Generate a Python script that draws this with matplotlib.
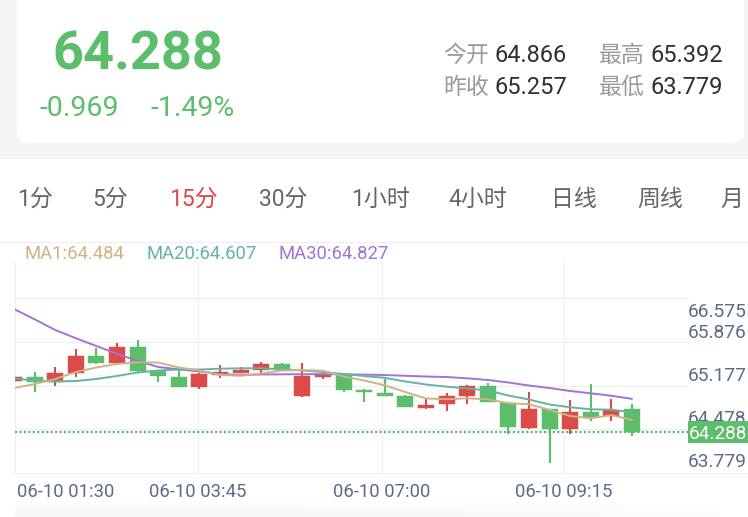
import matplotlib
matplotlib.use("Agg")
import numpy as np
import matplotlib.pyplot as plt
import matplotlib.transforms as mtransforms
from matplotlib.patches import FancyBboxPatch, Rectangle

# ---------------- data ----------------
last_price = 64.288
change_abs = "-0.969"
change_pct = "-1.49%"
stats_labels = ["今开", "最高", "昨收", "最低"]
stats_values = ["64.866", "65.392", "65.257", "63.779"]

periods = ["1分", "5分", "15分", "30分", "1小时", "4小时", "日线", "周线", "月"]
active_period = "15分"

opens = [65.122, 65.187, 65.106, 65.252, 65.529, 65.415, 65.670, 65.280, 65.187, 65.025,
         65.215, 65.252, 65.296, 65.389, 64.878, 65.187, 65.215, 64.971, 64.917, 64.873,
         64.683, 64.738, 64.881, 65.036, 64.755, 64.358, 64.657, 64.332, 64.618, 64.548, 64.657]
closes = [65.187, 65.106, 65.252, 65.529, 65.405, 65.670, 65.280, 65.199, 65.025, 65.226,
          65.259, 65.296, 65.389, 65.296, 65.199, 65.231, 64.971, 64.934, 64.878, 64.690,
          64.722, 64.873, 65.031, 64.771, 64.364, 64.657, 64.337, 64.618, 64.537, 64.646, 64.288]
highs = [65.215, 65.268, 65.350, 65.638, 65.659, 65.740, 65.784, 65.280, 65.307, 65.252,
         65.377, 65.350, 65.426, 65.410, 65.415, 65.268, 65.215, 64.982, 65.145, 64.890,
         64.825, 64.917, 65.060, 65.080, 64.781, 64.934, 64.657, 64.808, 65.064, 64.820, 64.743]
lows = [65.101, 64.943, 65.036, 65.182, 65.394, 65.415, 65.268, 65.106, 65.015, 64.982,
        65.161, 65.252, 65.252, 65.296, 64.862, 65.155, 64.943, 64.781, 64.878, 64.690,
        64.667, 64.634, 64.743, 64.771, 64.251, 64.337, 63.779, 64.251, 64.472, 64.472, 64.228]

ma1 = [65.003, 65.068, 65.150, 65.264, 65.337, 65.394, 65.421, 65.418, 65.337, 65.288,
       65.215, 65.203, 65.239, 65.288, 65.296, 65.285, 65.190, 65.125, 65.047, 64.938,
       64.833, 64.821, 64.836, 64.820, 64.755, 64.740, 64.646, 64.548, 64.511, 64.564, 64.484]
ma20 = [65.158, 65.125, 65.109, 65.117, 65.150, 65.199, 65.255, 65.288, 65.304, 65.304,
        65.317, 65.324, 65.324, 65.307, 65.288, 65.264, 65.231, 65.199, 65.169, 65.109,
        65.060, 65.025, 64.995, 64.963, 64.881, 64.816, 64.735, 64.690, 64.657, 64.651, 64.607]
ma30 = [66.288, 66.121, 65.947, 65.813, 65.686, 65.558, 65.444, 65.345, 65.307, 65.272,
        65.231, 65.215, 65.223, 65.226, 65.228, 65.228, 65.226, 65.221, 65.215, 65.202,
        65.190, 65.182, 65.161, 65.134, 65.093, 65.044, 65.003, 64.955, 64.917, 64.877, 64.827]
ma_names = ["MA1", "MA20", "MA30"]
ma_last = ["64.484", "64.607", "64.827"]

y_tick_labels = ["66.575", "65.876", "65.177", "64.478", "63.779"]
x_tick_labels = ["06-10 01:30", "06-10 03:45", "06-10 07:00", "06-10 09:15"]

# ---------------- style ----------------
W, H = 748, 517
FONT = ['Roboto', 'Noto Sans CJK SC', 'DejaVu Sans']
plt.rcParams['font.family'] = FONT
GREEN = "#5cbd6a"
RED = "#dc4a4a"
MA_COLORS = ["#cdb487", "#66b3a4", "#a274d2"]
AXIS_TXT = "#5c6c86"
GRID = "#efefef"

fig = plt.figure(figsize=(W / 100, H / 100), dpi=100)
fig.patch.set_facecolor("white")

# background / layout axes in pixel units
bg = fig.add_axes([0, 0, 1, 1], zorder=0)
bg.set_xlim(0, W)
bg.set_ylim(H, 0)
bg.axis("off")

bg.add_patch(Rectangle((0, 0), W, 159, color="#f5f5f5", lw=0))
bg.add_patch(FancyBboxPatch((17, -30), 727, 173, boxstyle="round,pad=0,rounding_size=12",
                            fc="white", ec="none"))

# header
bg.text(52, 70, f"{last_price:.3f}", fontsize=39, fontweight="bold", color=GREEN, va="baseline")
bg.text(40, 116, change_abs, fontsize=20.5, color=GREEN, va="baseline")
bg.text(151, 116, change_pct, fontsize=20.5, color=GREEN, va="baseline")
stat_pos = [(443, 495, 62), (599, 651, 62), (443, 495, 94), (599, 651, 94)]
for (lx, vx, by), lab, val in zip(stat_pos, stats_labels, stats_values):
    bg.text(lx, by, lab, fontsize=16.5, color="#9a9a9a", va="baseline")
    bg.text(vx, by, val, fontsize=17, color="#2f2f2f", va="baseline")

# period tabs
tab_x = [17, 92, 169, 259, 351, 448, 551, 637, 720]
for x, p in zip(tab_x, periods):
    bg.text(x, 206, p, fontsize=16.5, va="baseline",
            color="#e0444c" if p == active_period else "#666666")

# grid lines (pixel positions)
bg.plot([0, W], [242, 242], color=GRID, lw=0.8)
for gy in [298, 342, 386, 429]:
    bg.plot([15, 688], [gy, gy], color=GRID, lw=0.8)
bg.plot([15, W], [473, 473], color=GRID, lw=0.8)
grid_x = [15, 198, 382, 564]
for gx in grid_x:
    bg.plot([gx, gx], [262, 473], color=GRID, lw=0.8)

# legend
leg_x = [25, 147, 279]
for x, n, v, c in zip(leg_x, ma_names, ma_last, MA_COLORS):
    bg.text(x, 259, f"{n}:{v}", fontsize=13.3, color=c, va="baseline")

# x tick labels
for i, (gx, lab) in enumerate(zip(grid_x, x_tick_labels)):
    bg.text(gx + 2 if i == 0 else gx, 497, lab, fontsize=13.3, color=AXIS_TXT,
            va="baseline", ha="left" if i == 0 else "center")

# bottom soft shadow
grad = np.linspace(0, 1, 20).reshape(-1, 1) * np.ones((1, 50))
fade = np.clip(1.3 - np.linspace(0, 1, 50), 0, 1)
alpha = grad * fade[None, :] * 0.6
rgba = np.zeros((20, 50, 4))
rgba[..., :3] = 0.93
rgba[..., 3] = alpha
bg.imshow(rgba, extent=(15, 720, 517, 500), aspect="auto", interpolation="bilinear")
bg.set_xlim(0, W)
bg.set_ylim(H, 0)

# ---------------- chart axes ----------------
PX_PER_CANDLE = 20.6
PRICE_PER_PX = 0.01626
ax = fig.add_axes([15 / W, 1 - 473 / H, 673 / W, 231 / H], zorder=2)
ax.patch.set_alpha(0)
ax.axis("off")
ax.set_xlim(1 / PX_PER_CANDLE, 674 / PX_PER_CANDLE)
ax.set_ylim(last_price - 41 * PRICE_PER_PX, last_price + 190 * PRICE_PER_PX)

idx = np.arange(len(opens))
o = np.array(opens); c = np.array(closes)
colors = [RED if cc >= oo else GREEN for oo, cc in zip(o, c)]
ax.axhline(last_price, color=GREEN, lw=1.6, linestyle=(0, (1, 1)), zorder=1)
ax.vlines(idx, lows, highs, colors=colors, lw=1.5, zorder=2)
body_h = np.maximum(np.abs(c - o), 0.025)
ax.bar(idx, body_h, bottom=np.minimum(o, c), width=0.78, color=colors,
       edgecolor=colors, lw=0.3, zorder=3)
for series, col in zip([ma30, ma20, ma1], MA_COLORS[::-1]):
    ax.plot(idx, series, color=col, lw=1.4, zorder=4, solid_capstyle="round")

# right price labels
ytr = mtransforms.offset_copy(ax.get_yaxis_transform(), fig=fig, x=0, y=-3.2, units="dots")
for i, lab in enumerate(y_tick_labels):
    if i == 0:
        ax.text(1.0, (473 - 316.7) / 231, lab, transform=ax.transAxes, fontsize=13.8,
                color=AXIS_TXT, va="baseline", ha="left", clip_on=False)
    else:
        ax.text(1.0, float(lab), lab, transform=ytr, fontsize=13.8,
                color=AXIS_TXT, va="baseline", ha="left", clip_on=False)

half = 10.8 * PRICE_PER_PX
ax.add_patch(Rectangle((1.0, last_price - half), 60 / 673, 2 * half,
                       transform=ax.get_yaxis_transform(), color=GREEN, lw=0,
                       clip_on=False, zorder=5))
ttr = mtransforms.offset_copy(ax.get_yaxis_transform(), fig=fig, x=0, y=-6.8, units="dots")
ax.text(1.0015, last_price, f"{last_price:.3f}", transform=ttr, fontsize=13.8,
        color="white", va="baseline", ha="left", clip_on=False, zorder=6)

fig.savefig("out.png", dpi=100, facecolor="white")
